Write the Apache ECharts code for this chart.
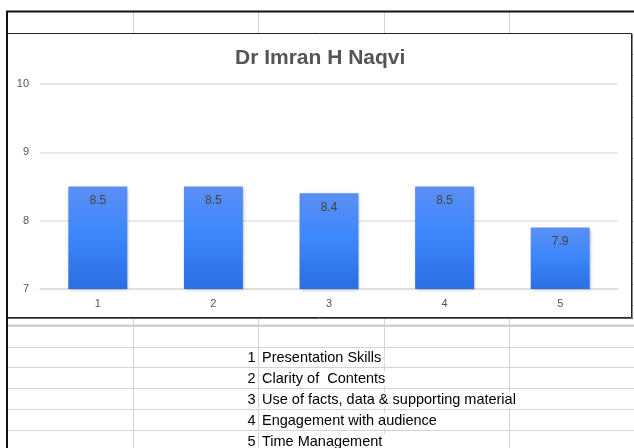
<!DOCTYPE html>
<html><head><meta charset="utf-8">
<script src="https://cdn.jsdelivr.net/npm/echarts@6/dist/echarts.min.js"></script>
<style>html,body{margin:0;padding:0;background:#fff}#c{width:634px;height:448px}</style>
</head><body><div id="c"></div>
<script>
const categories = ['1', '2', '3', '4', '5'];
const scores = [8.5, 8.5, 8.4, 8.5, 7.9];
const chartTitle = 'Dr Imran H Naqvi';
const legendNums = ['1', '2', '3', '4', '5'];
const legendLabels = ['Presentation Skills', 'Clarity of  Contents', 'Use of facts, data & supporting material', 'Engagement with audience', 'Time Management'];

const W = 634, H = 448;
const colX = [133, 258, 384, 509];
const rowH = 20.9, row0 = 33;
const chartTop = 33, chartBottom = 318, chartRight = 632;
const g = [];
// spreadsheet grid rows (only visible outside the chart box)
for (let k = 0; row0 + k * rowH < H; k++) {
  const y = Math.round(row0 + k * rowH) + 0.5;
  if (y > chartTop && y < chartBottom + 2) {
    g.push({type: 'line', z: 0, shape: {x1: chartRight + 1, y1: y, x2: W, y2: y}, style: {stroke: '#d4d4d4', lineWidth: 1}});
  } else if (y > chartBottom) {
    g.push({type: 'line', z: 0, shape: {x1: 8, y1: y, x2: W, y2: y}, style: {stroke: '#d4d4d4', lineWidth: 1}});
  }
}
colX.forEach(x => {
  g.push({type: 'line', z: 0, shape: {x1: x + 0.5, y1: 12, x2: x + 0.5, y2: chartTop}, style: {stroke: '#d4d4d4', lineWidth: 1}});
  g.push({type: 'line', z: 0, shape: {x1: x + 0.5, y1: chartBottom + 1, x2: x + 0.5, y2: H}, style: {stroke: '#d4d4d4', lineWidth: 1}});
});
// thicker line below chart
g.push({type: 'line', z: 0, shape: {x1: 8, y1: 325.5, x2: W, y2: 325.5}, style: {stroke: '#cfcfcf', lineWidth: 2}});
// outer sheet border
g.push({type: 'line', z: 5, shape: {x1: 6, y1: 11.5, x2: W, y2: 11.5}, style: {stroke: '#111', lineWidth: 2}});
g.push({type: 'line', z: 5, shape: {x1: 7, y1: 11, x2: 7, y2: H}, style: {stroke: '#111', lineWidth: 2}});
// chart frame
g.push({type: 'rect', z: 1, silent: true, shape: {x: 7.5, y: 33.5, width: 624, height: 284}, style: {fill: null, stroke: '#222', lineWidth: 1}});
g.push({type: 'line', z: 1, shape: {x1: 632.5, y1: 34, x2: 632.5, y2: 319}, style: {stroke: '#888', lineWidth: 1}});
g.push({type: 'line', z: 1, shape: {x1: 8, y1: 318.5, x2: 633, y2: 318.5}, style: {stroke: '#666', lineWidth: 1}});
// table text (overflowing text hides the cell borders, as in a spreadsheet)
legendNums.forEach((n, i) => {
  const y = row0 + (15 + i) * rowH + rowH / 2 + 1;
  g.push({type: 'text', z: 6, x: 255.5, y: y, style: {text: n, fill: '#000', font: '14.5px "Liberation Sans", Arial, sans-serif', textAlign: 'right', textVerticalAlign: 'middle'}});
  g.push({type: 'text', z: 6, x: 262, y: y, style: {text: legendLabels[i], fill: '#000', font: '14.5px "Liberation Sans", Arial, sans-serif', textAlign: 'left', textVerticalAlign: 'middle', backgroundColor: '#fff', padding: [0, 3, 0, 0]}});
});

const chart = echarts.init(document.getElementById('c'), null, {renderer: 'canvas'});
chart.setOption({
  animation: false,
  backgroundColor: '#fff',
  title: {text: chartTitle, left: 230, top: 43,
    textStyle: {fontFamily: '"Liberation Sans", Arial, sans-serif', fontWeight: 'bold', fontSize: 21, color: '#555'}},
  grid: {left: 40, right: 16, top: 84, bottom: 159, containLabel: false},
  xAxis: {type: 'category', data: categories,
    axisLine: {lineStyle: {color: '#dcdcdc', width: 1.5}}, axisTick: {show: false},
    axisLabel: {color: '#555', fontSize: 11, margin: 9, fontFamily: '"Liberation Sans", Arial, sans-serif'}},
  yAxis: {type: 'value', min: 7, max: 10, interval: 1,
    axisLine: {show: false}, axisTick: {show: false},
    splitLine: {lineStyle: {color: '#e2e2e2', width: 1.5}},
    axisLabel: {color: '#555', fontSize: 11, margin: 11, fontFamily: '"Liberation Sans", Arial, sans-serif'}},
  series: [{type: 'bar', data: scores, barWidth: '51%', z: 3,
    itemStyle: {
      color: new echarts.graphic.LinearGradient(0, 0, 0, 1, [
        {offset: 0, color: '#5b8ff4'}, {offset: 0.45, color: '#3e87fc'}, {offset: 1, color: '#2a6ee2'}]),
      shadowBlur: 3, shadowColor: 'rgba(0,0,0,0.3)', shadowOffsetX: 1, shadowOffsetY: 1},
    label: {show: true, position: 'insideTop', distance: 8, color: '#444', fontSize: 12,
      fontFamily: '"Liberation Sans", Arial, sans-serif', formatter: p => p.value.toFixed(1)}}],
  graphic: {elements: g}
});
</script></body></html>
